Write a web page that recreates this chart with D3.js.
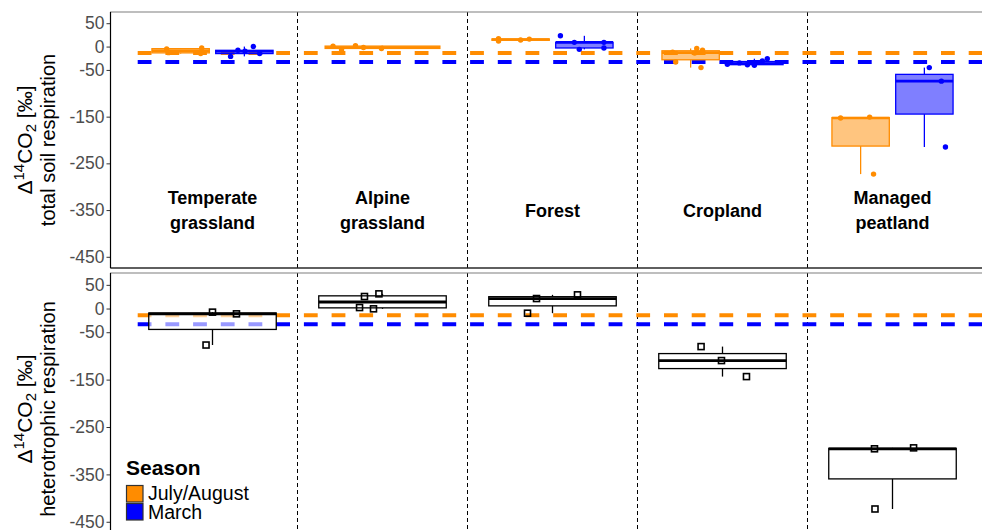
<!DOCTYPE html>
<html>
<head>
<meta charset="utf-8">
<script src="https://cdn.jsdelivr.net/npm/d3@7"></script>
<style>
  body { margin: 0; background: #fff; }
  svg { display: block; font-family: "Liberation Sans", Arial, sans-serif; }
</style>
</head>
<body>
<div id="vis"></div>
<script>
var categories = ['Temperate grassland', 'Alpine grassland', 'Forest', 'Cropland', 'Managed peatland'];
var categoryLines = [['Temperate', 'grassland'], ['Alpine', 'grassland'], ['Forest'], ['Cropland'], ['Managed', 'peatland']];
var seasons = ['July/August', 'March'];
var seasonColors = ['#ff8c00', '#0000ff'];
var atmosphere = [-14, -33];
var yTicks = [50, 0, -50, -150, -250, -350, -450];
var labelValue = -364;

// [category, season, delta14C, jitter (fraction of category width)]
var totalResp = [
  [0, 0, -5, -0.082], [0, 0, -13, -0.071], [0, 0, -3, 0.124], [0, 0, -15, 0.118],
  [0, 1, 0, 0.053], [0, 1, -21, -0.081], [0, 1, -10, 0.004], [0, 1, -8, -0.038], [0, 1, -15, 0.09],
  [1, 0, 1, -0.291], [1, 0, -7, -0.241], [1, 0, 2, -0.159], [1, 0, -2, -0.112], [1, 0, -4, -0.006],
  [2, 0, 17, -0.13], [2, 0, 12, -0.13], [2, 0, 14, 0], [2, 0, 16, 0.051],
  [2, 1, 23, -0.141], [2, 1, 9, -0.059], [2, 1, -6, -0.03], [2, 1, 9, 0.115], [2, 1, -3, 0.115],
  [3, 0, -4, 0.036], [3, 0, -45, 0.061], [3, 0, -33, -0.088], [3, 0, -14, 0.024], [3, 0, -12, -0.106], [3, 0, -8, 0.07],
  [3, 1, -26, 0.076], [3, 1, -39, -0.041], [3, 1, -40, 0], [3, 1, -38, -0.159], [3, 1, -31, 0.047], [3, 1, -35, -0.088],
  [4, 0, -153, -0.118], [4, 0, -151, 0.053], [4, 0, -273, 0.076],
  [4, 1, -45, 0.029], [4, 1, -74, 0.1], [4, 1, -215, 0.124]
];

// [category, delta14C, jitter]
var hetResp = [
  [0, -7.6, 0], [0, -11.2, 0.141], [0, -77, -0.038],
  [1, 25.4, -0.106], [1, 31, -0.021], [1, 2.1, -0.135], [1, -0.6, -0.053],
  [2, 21.1, -0.094], [2, 28.9, 0.147], [2, -9.8, -0.147],
  [3, -80.3, -0.126], [3, -109.8, -0.006], [3, -143.6, 0.141],
  [4, -296, -0.106], [4, -294, 0.124], [4, -423, -0.103]
];

var width = 982, height = 530;
var svg = d3.select('#vis')
  .append('svg')
  .attr('width', width)
  .attr('height', height);

var x = d3.scaleBand()
  .domain(categories)
  .range([127.5, 977.5]);
var step = x.step();
var left = x.range()[0] - 0.1 * step,
  right = x.range()[1] + 0.1 * step;
var dodgeW = 0.75 * step;

function boxStats(vals) {
  vals = vals.slice().sort(d3.ascending);
  var q1 = d3.quantileSorted(vals, 0.25),
    med = d3.quantileSorted(vals, 0.5),
    q3 = d3.quantileSorted(vals, 0.75);
  var iqr = q3 - q1;
  return {
    q1: q1, med: med, q3: q3,
    lo: d3.min(vals.filter(function(v) { return v >= q1 - 1.5 * iqr; })),
    hi: d3.max(vals.filter(function(v) { return v <= q3 + 1.5 * iqr; }))
  };
}

function drawBox(g, y, cx, w, s, stroke, fill, opacity, medW) {
  g.append('line')
    .attr('x1', cx).attr('x2', cx)
    .attr('y1', y(s.q3)).attr('y2', y(s.hi))
    .attr('stroke', stroke).attr('stroke-width', 1.3);
  g.append('line')
    .attr('x1', cx).attr('x2', cx)
    .attr('y1', y(s.q1)).attr('y2', y(s.lo))
    .attr('stroke', stroke).attr('stroke-width', 1.3);
  g.append('rect')
    .attr('x', cx - w / 2)
    .attr('y', y(s.q3))
    .attr('width', w)
    .attr('height', Math.max(0.5, y(s.q1) - y(s.q3)))
    .attr('fill', fill)
    .attr('fill-opacity', opacity)
    .attr('stroke', stroke)
    .attr('stroke-width', 1.3);
  g.append('line')
    .attr('x1', cx - w / 2).attr('x2', cx + w / 2)
    .attr('y1', y(s.med)).attr('y2', y(s.med))
    .attr('stroke', stroke).attr('stroke-width', medW);
}

function drawPanel(y, title) {
  var top = y.range()[1], bottom = y.range()[0];
  var g = svg.append('g');

  x.domain().slice(1).forEach(function(c) {
    g.append('line')
      .attr('x1', x(c)).attr('x2', x(c))
      .attr('y1', top).attr('y2', bottom)
      .attr('stroke', '#000')
      .attr('stroke-width', 1)
      .attr('stroke-dasharray', '4,3');
  });

  atmosphere.forEach(function(v, i) {
    g.append('line')
      .attr('x1', x.range()[0]).attr('x2', right)
      .attr('y1', y(v)).attr('y2', y(v))
      .attr('stroke', seasonColors[i])
      .attr('stroke-width', 4)
      .attr('stroke-dasharray', '13.8,13.9')
      .attr('stroke-dashoffset', 17.5);
  });

  var yAxis = g.append('g')
    .attr('transform', 'translate(' + left + ',0)')
    .call(d3.axisLeft(y)
      .tickValues(yTicks)
      .tickFormat(function(d) { return String(d); })
      .tickSize(4)
      .tickPadding(2));
  yAxis.select('.domain').remove();
  yAxis.selectAll('.tick line').attr('stroke', '#333');
  yAxis.selectAll('.tick text')
    .attr('fill', '#4d4d4d')
    .style('font-size', '17.5px')
    .style('font-family', '"Liberation Sans", Arial, sans-serif');

  var cy = (top + bottom) / 2;
  var t1 = g.append('text')
    .attr('transform', 'translate(32,' + cy + ') rotate(-90)')
    .attr('text-anchor', 'middle')
    .style('font-size', '21px')
    .attr('fill', '#000');
  t1.append('tspan').text('\u0394');
  t1.append('tspan').attr('dy', -8).style('font-size', '15px').text('14');
  t1.append('tspan').attr('dy', 8).text('CO');
  t1.append('tspan').attr('dy', 4).style('font-size', '15px').text('2');
  t1.append('tspan').attr('dy', -4).text(' [\u2030]');
  g.append('text')
    .attr('transform', 'translate(55,' + cy + ') rotate(-90)')
    .attr('text-anchor', 'middle')
    .style('font-size', '20px')
    .attr('fill', '#000')
    .text(title);

  return g;
}

// top panel: total soil respiration
var yTop = d3.scaleLinear().domain([-474, 74]).range([268, 12]);
var gTop = drawPanel(yTop, 'total soil respiration');

categoryLines.forEach(function(lines, i) {
  lines.forEach(function(l, k) {
    gTop.append('text')
      .attr('x', x(categories[i]) + step / 2)
      .attr('y', yTop(labelValue) + (k - (lines.length - 1) / 2) * 25.5)
      .attr('text-anchor', 'middle')
      .style('font-size', '18px')
      .style('font-weight', 'bold')
      .text(l);
  });
});

d3.groups(totalResp, function(d) { return d[0]; }).forEach(function(cg) {
  var cat = cg[0];
  var bySeason = d3.groups(cg[1], function(d) { return d[1]; })
    .sort(function(a, b) { return a[0] - b[0]; });
  var n = bySeason.length;
  bySeason.forEach(function(sg, k) {
    var season = sg[0];
    var cx = x(categories[cat]) + step / 2 - dodgeW / 2 + (k + 0.5) * dodgeW / n;
    var s = boxStats(sg[1].map(function(d) { return d[2]; }));
    drawBox(gTop, yTop, cx, 0.9 * dodgeW / n, s, seasonColors[season], seasonColors[season], 0.5, 2.6);
    gTop.selectAll(null)
      .data(sg[1])
      .enter()
      .append('circle')
      .attr('cx', function(d) { return cx + d[3] * step; })
      .attr('cy', function(d) { return yTop(d[2]); })
      .attr('r', 2.7)
      .attr('fill', seasonColors[season]);
  });
});

svg.append('rect')
  .attr('x', left).attr('y', yTop.range()[1])
  .attr('width', right - left)
  .attr('height', yTop.range()[0] - yTop.range()[1])
  .attr('fill', 'none')
  .attr('stroke', '#7f7f7f');
svg.append('line')
  .attr('x1', left).attr('x2', right)
  .attr('y1', yTop.range()[0]).attr('y2', yTop.range()[0])
  .attr('stroke', '#000').attr('stroke-width', 1.2);
svg.append('line')
  .attr('x1', left).attr('x2', left)
  .attr('y1', yTop.range()[1]).attr('y2', yTop.range()[0])
  .attr('stroke', '#000').attr('stroke-width', 1.2);

// bottom panel: heterotrophic respiration
var yBot = d3.scaleLinear().domain([-499, 75]).range([545, 273]);
var gBot = drawPanel(yBot, 'heterotrophic respiration');

d3.groups(hetResp, function(d) { return d[0]; }).forEach(function(cg) {
  var cx = x(categories[cg[0]]) + step / 2;
  var s = boxStats(cg[1].map(function(d) { return d[1]; }));
  drawBox(gBot, yBot, cx, dodgeW, s, '#000', '#fff', 0.6, 2.8);
  gBot.selectAll(null)
    .data(cg[1])
    .enter()
    .append('rect')
    .attr('x', function(d) { return cx + d[2] * step - 3; })
    .attr('y', function(d) { return yBot(d[1]) - 3; })
    .attr('width', 6)
    .attr('height', 6)
    .attr('fill', 'none')
    .attr('stroke', '#000')
    .attr('stroke-width', 1.6);
});

svg.append('rect')
  .attr('x', left).attr('y', yBot.range()[1])
  .attr('width', right - left)
  .attr('height', yBot.range()[0] - yBot.range()[1])
  .attr('fill', 'none')
  .attr('stroke', '#7f7f7f');
svg.append('line')
  .attr('x1', left).attr('x2', left)
  .attr('y1', yBot.range()[1]).attr('y2', yBot.range()[0])
  .attr('stroke', '#000').attr('stroke-width', 1.2);

// legend
var legend = svg.append('g').attr('transform', 'translate(126,475)');
legend.append('text')
  .style('font-size', '21px')
  .style('font-weight', 'bold')
  .text('Season');
seasons.forEach(function(s, i) {
  legend.append('rect')
    .attr('x', 0.5)
    .attr('y', 10.5 + i * 18)
    .attr('width', 16.5)
    .attr('height', 16.5)
    .attr('fill', seasonColors[i])
    .attr('stroke', '#333')
    .attr('stroke-width', 1.2);
  legend.append('text')
    .attr('x', 22)
    .attr('y', 25 + i * 19)
    .style('font-size', '19.5px')
    .text(s);
});
</script>
</body>
</html>
